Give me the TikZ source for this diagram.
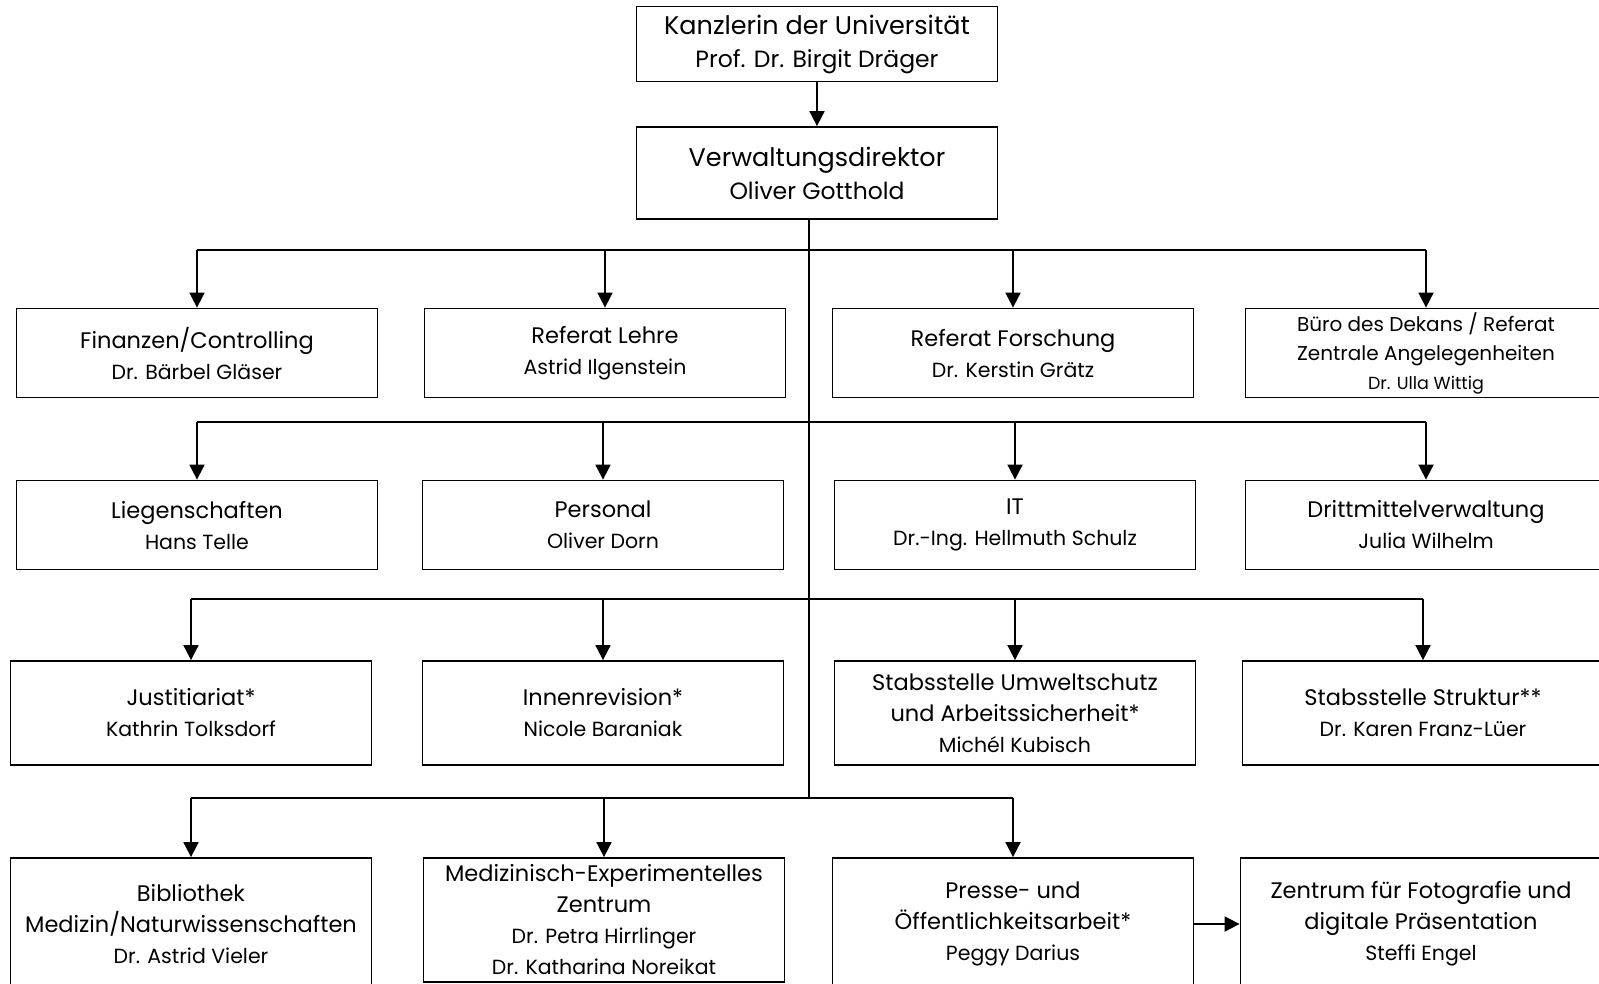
\documentclass[tikz,border=0pt]{standalone}
\usepackage{fontspec}
\setmainfont{Poppins}
\usetikzlibrary{arrows.meta}
\newcommand{\nm}[1]{{\fontsize{20.5}{31}\selectfont #1}}
\begin{document}
\begin{tikzpicture}[x=1pt, y=-1pt,
    box/.style={draw, line width=1.8pt, minimum width=361pt, minimum height=89pt, align=center, inner sep=0pt, font=\fontsize{22.5}{31}\selectfont},
    arr/.style={-{Triangle[width=15pt,length=15pt]}, line width=1.8pt},
    bus/.style={line width=1.6pt}]
      \clip (0,0) rectangle (1599,983);

      % leitung
      \node[box, minimum height=75pt, font=\fontsize{25.5}{33}\selectfont] (kanz) at (817,44) {Kanzlerin der Universität\\{\fontsize{23.5}{33}\selectfont Prof. Dr. Birgit Dräger}};
      \node[box, minimum height=92pt, font=\fontsize{25.5}{33}\selectfont] (vd) at (817,173) {Verwaltungsdirektor\\{\fontsize{23.5}{33}\selectfont Oliver Gotthold}};

      % erste reihe
      \node[box] (fin) at (197,353) {Finanzen/Controlling\\\nm{Dr. Bärbel Gläser}};
      \node[box] (lehre) at (605,353) {Referat Lehre\\\nm{Astrid Ilgenstein}};
      \node[box] (forsch) at (1013,353) {Referat Forschung\\\nm{Dr. Kerstin Grätz}};
      \node[box, font=\fontsize{20}{29}\selectfont] (dekan) at (1426,353) {Büro des Dekans / Referat\\Zentrale Angelegenheiten\\{\fontsize{17.5}{27}\selectfont Dr. Ulla Wittig}};

      % zweite reihe
      \node[box] (lieg) at (197,525) {Liegenschaften\\\nm{Hans Telle}};
      \node[box] (pers) at (603,525) {Personal\\\nm{Oliver Dorn}};
      \node[box] (it) at (1015,525) {IT\\\nm{Dr.-Ing. Hellmuth Schulz}};
      \node[box] (dritt) at (1426,525) {Drittmittelverwaltung\\\nm{Julia Wilhelm}};

      % dritte reihe
      \node[box, minimum height=104pt] (just) at (191,713) {Justitiariat*\\\nm{Kathrin Tolksdorf}};
      \node[box, minimum height=104pt] (innen) at (603,713) {Innenrevision*\\\nm{Nicole Baraniak}};
      \node[box, minimum height=104pt] (umwelt) at (1015,713) {Stabsstelle Umweltschutz\\und Arbeitssicherheit*\\\nm{Michél Kubisch}};
      \node[box, minimum height=104pt] (strukt) at (1423,713) {Stabsstelle Struktur**\\\nm{Dr. Karen Franz-Lüer}};

      % vierte reihe
      \node[box, minimum height=132pt] (bib) at (191,924) {Bibliothek\\Medizin/Naturwissenschaften\\\nm{Dr. Astrid Vieler}};
      \node[box, minimum height=124pt] (mez) at (604,920) {Medizinisch-Experimentelles\\Zentrum\\\nm{Dr. Petra Hirrlinger}\\\nm{Dr. Katharina Noreikat}};
      \node[box, minimum height=132pt] (presse) at (1013,924) {Presse- und\\Öffentlichkeitsarbeit*\\\nm{Peggy Darius}};
      \node[box, minimum height=132pt] (foto) at (1421,924) {Zentrum für Fotografie und\\digitale Präsentation\\\nm{Steffi Engel}};

      % verbindungen
      \coordinate (t1) at (809,250);
      \coordinate (t2) at (809,422);
      \coordinate (t3) at (809,599);
      \coordinate (t4) at (809,798);

      \draw[arr] (kanz) -- (vd);
      \draw[line width=2.2pt] (vd.south -| t4) -- (t4);

      \draw[bus] (t1 -| fin.north) -- (t1 -| dekan.north);
      \draw[bus] (t2 -| lieg.north) -- (t2 -| dritt.north);
      \draw[bus] (t3 -| just.north) -- (t3 -| strukt.north);
      \draw[bus] (t4 -| bib.north) -- (t4 -| presse.north);

      \foreach \n in {fin,lehre,forsch,dekan}
        \draw[arr] (t1 -| \n.north) -- (\n.north);
      \foreach \n in {lieg,pers,it,dritt}
        \draw[arr] (t2 -| \n.north) -- (\n.north);
      \foreach \n in {just,innen,umwelt,strukt}
        \draw[arr] (t3 -| \n.north) -- (\n.north);
      \foreach \n in {bib,mez,presse}
        \draw[arr] (t4 -| \n.north) -- (\n.north);

      \draw[arr] (presse.east |- foto.west) -- (foto.west);
\end{tikzpicture}
\end{document}
